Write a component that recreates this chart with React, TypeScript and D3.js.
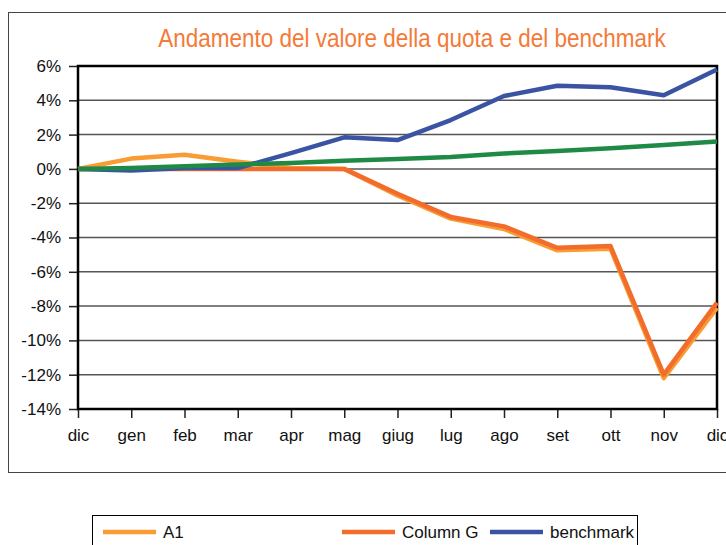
import { useEffect, useRef } from "react";
import * as d3 from "d3";

const months = ["dic", "gen", "feb", "mar", "apr", "mag", "giug", "lug", "ago", "set", "ott", "nov", "dic"];
const yTicks = [6, 4, 2, 0, -2, -4, -6, -8, -10, -12, -14];

// values in percent
const a1 = [0, 0.6, 0.82, 0.42, 0.05, 0, -1.55, -2.9, -3.5, -4.75, -4.65, -12.2, -8.1];
const columnG = [0, 0, 0, 0, 0, 0, -1.45, -2.8, -3.35, -4.6, -4.5, -12.0, -7.8];
const benchmark = [0, -0.1, 0.05, 0.05, 0.92, 1.84, 1.68, 2.85, 4.25, 4.85, 4.76, 4.3, 5.8];
const green = [0, 0.05, 0.15, 0.25, 0.35, 0.48, 0.58, 0.7, 0.9, 1.05, 1.2, 1.4, 1.6];

const series = [
  { name: "A1", color: "#F89C33", values: a1, legend: true },
  { name: "Column G", color: "#F26C2B", values: columnG, legend: true },
  { name: "benchmark", color: "#3A54A3", values: benchmark, legend: true },
  { name: "", color: "#1F8A45", values: green, legend: false },
];

const font = "'Liberation Sans Narrow', 'Arial Narrow', 'Liberation Sans', Arial, sans-serif";

const App = () => {
  const svgRef = useRef(null);
  const width = 726;
  const height = 545;
  const margin = { left: 78, right: 9, top: 66, bottom: 136 };

  useEffect(() => {
    const svg = d3.select(svgRef.current);
    svg.selectAll("*").remove();

    const x = d3
      .scalePoint()
      .domain(months.map((m, i) => String(i)))
      .range([margin.left, width - margin.right]);
    const y = d3
      .scaleLinear()
      .domain([-14, 6])
      .range([height - margin.bottom, margin.top]);

    // outer frame
    svg
      .append("rect")
      .attr("x", 8.5)
      .attr("y", 12.5)
      .attr("width", 730)
      .attr("height", 460)
      .attr("fill", "none")
      .attr("stroke", "#444")
      .attr("stroke-width", 1);

    // title, squeezed a little since no narrow font is around
    svg
      .append("text")
      .attr("transform", "translate(412,47) scale(0.9,1)")
      .attr("text-anchor", "middle")
      .attr("font-family", font)
      .attr("font-size", 25)
      .attr("fill", "#F47A38")
      .text("Andamento del valore della quota e del benchmark");

    // grid
    svg
      .append("g")
      .selectAll("line")
      .data(yTicks)
      .enter()
      .append("line")
      .attr("x1", margin.left)
      .attr("x2", width - margin.right)
      .attr("y1", (d) => y(d))
      .attr("y2", (d) => y(d))
      .attr("stroke", "#555")
      .attr("stroke-width", 1.5);

    const yAxis = d3
      .axisLeft(y)
      .tickValues(yTicks)
      .tickSize(9)
      .tickPadding(8)
      .tickFormat((d) => `${d}%`);
    const yg = svg.append("g").attr("transform", `translate(${margin.left},0)`).call(yAxis);
    yg.select(".domain").remove();
    yg.selectAll("line").attr("stroke", "#222").attr("stroke-width", 1.5);
    yg.selectAll("text")
      .attr("font-family", font)
      .attr("font-size", 17)
      .attr("fill", "#111");

    const xAxis = d3
      .axisBottom(x)
      .tickSize(9)
      .tickPadding(11)
      .tickFormat((d) => months[+d]);
    const xg = svg.append("g").attr("transform", `translate(0,${y(-14)})`).call(xAxis);
    xg.select(".domain").remove();
    xg.selectAll("line").attr("stroke", "#222").attr("stroke-width", 1.5);
    xg.selectAll("text")
      .attr("font-family", font)
      .attr("font-size", 17)
      .attr("fill", "#111");

    // plot frame
    svg
      .append("rect")
      .attr("x", margin.left)
      .attr("y", margin.top)
      .attr("width", width - margin.right - margin.left)
      .attr("height", y(-14) - margin.top)
      .attr("fill", "none")
      .attr("stroke", "#000")
      .attr("stroke-width", 2.5);

    const line = d3
      .line<number>()
      .x((d, i) => x(String(i)))
      .y((d) => y(d));

    svg
      .append("g")
      .selectAll("path")
      .data(series)
      .enter()
      .append("path")
      .attr("fill", "none")
      .attr("stroke", (d) => d.color)
      .attr("stroke-width", 4.5)
      .attr("stroke-linejoin", "round")
      .attr("d", (d) => line(d.values));

    // legend
    svg
      .append("rect")
      .attr("x", 92.5)
      .attr("y", 515.5)
      .attr("width", 545)
      .attr("height", 40)
      .attr("fill", "#fff")
      .attr("stroke", "#000")
      .attr("stroke-width", 1);

    const legendX = [103, 342, 490];
    const lg = svg
      .append("g")
      .selectAll("g")
      .data(series.filter((s) => s.legend))
      .enter()
      .append("g")
      .attr("transform", (d, i) => `translate(${legendX[i]},532)`);
    lg.append("line")
      .attr("x1", 0)
      .attr("x2", 53)
      .attr("stroke", (d) => d.color)
      .attr("stroke-width", 4.5);
    lg.append("text")
      .attr("x", 60)
      .attr("y", 6)
      .attr("font-family", font)
      .attr("font-size", 17)
      .attr("fill", "#111")
      .text((d) => d.name);
  }, []);

  return (
    <svg
      ref={svgRef}
      width={width}
      height={height}
      style={{ position: "absolute", left: 0, top: 0, background: "#fff" }}
    />
  );
};

export default App;
